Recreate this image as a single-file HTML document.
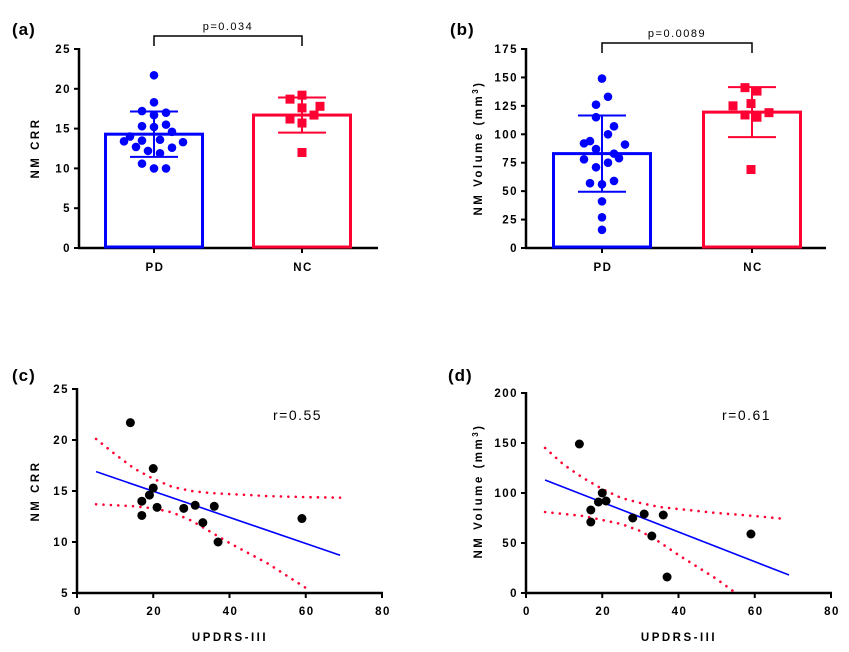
<!DOCTYPE html>
<html><head><meta charset="utf-8">
<style>
body{margin:0;background:#fff;}
svg{display:block;font-family:"Liberation Sans",Arial,sans-serif;}
.tk{font-size:11.5px;font-weight:bold;letter-spacing:1.5px;}
.ttl{font-size:11.5px;font-weight:bold;letter-spacing:2.5px;}
.pl{font-size:17px;font-weight:bold;letter-spacing:1px;}
</style></head>
<body>
<svg id="fig" width="849" height="652" viewBox="0 0 849 652"></svg>
<script>
// ---- data ----
const barCats = ["PD","NC"];
const crrMeans = [14.3, 16.7];
const crrSD = [2.85, 2.2];
const crrPD = [21.7,18.3,17.2,17.0,16.7,15.3,15.2,15.5,14.6,14.0,13.4,13.5,13.6,13.3,12.7,12.2,12.6,11.9,10.6,10.0,10.0];
const crrPDjit = [0,0,-12,12,0,-12,0,12,18,-24,-30,-12,6,29,-18,-6,18,6,-12,0,12];
const crrNC = [18.7,19.2,17.6,17.8,16.2,16.7,15.7,12.0];
const crrNCjit = [-12,0,0,18,-12,12,0,0];
const volMeans = [83, 119.5];
const volSD = [33.5, 22];
const volPD = [149,133,126,115,107,100,94,92,91,87,83,79,78,75,71,57,56,59,41,27,16];
const volPDjit = [0,6,-6,-6,12,6,-12,-18,23,-6,12,17,-18,6,-6,-12,0,12,0,0,0];
const volNC = [141,138,125,127,117,115,119,69];
const volNCjit = [-7,5,-19,-1,-7,5,17,-1];
const updrs = [14,20,20,19,17,17,21,28,31,36,33,37,59];
const crrCorr = [21.7,17.2,15.3,14.6,14.0,12.6,13.4,13.3,13.6,13.5,11.9,10.0,12.3];
const updrsD = [14,20,19,21,17,17,28,31,36,33,37,59];
const volCorr = [149,100,91,92,83,71,75,79,78,57,16,59];
const fitX = [5,69];
const crrFit = [16.9,8.7];
const volFit = [113,18];
const ciUpX = [5,10,15,20,25,30,35,40,50,60,69];
const crrUp = [20.1,18.6,17.2,16.2,15.4,15.0,14.8,14.7,14.5,14.4,14.35];
const crrLoX = [5,10,15,20,25,30,35,40,50,60];
const crrLo = [13.7,13.6,13.5,13.3,12.9,12.1,11.0,9.9,7.9,5.5];
const volUpX = [5,10,15,20,25,30,35,40,50,60,68];
const volUp = [145,128,115,104,95,90,86,84,80,77,74];
const volLoX = [5,10,15,20,25,30,35,40,50,55];
const volLo = [81,79,77,73,69,62,51,38,14,0];

const NS="http://www.w3.org/2000/svg";
const svg=document.getElementById('fig');
function el(tag,attrs,parent,text){const e=document.createElementNS(NS,tag);for(const k in attrs)e.setAttribute(k,attrs[k]);if(text!==undefined)e.textContent=text;(parent||svg).appendChild(e);return e;}
function lin(d0,d1,r0,r1){return v=>r0+(v-d0)/(d1-d0)*(r1-r0);}

function yAxis(g,x,y,ticks,x0,x1,y0){
  const ax=el('line',{x1:x,y1:y(ticks[ticks.length-1])-1,x2:x,y2:y0+1,stroke:'#000','stroke-width':2.5},g);
  
  ticks.forEach(t=>{
    el('line',{x1:x-5,y1:y(t),x2:x,y2:y(t),stroke:'#000','stroke-width':2},g);
    const tl=el('text',{x:x-8,y:y(t)+4,'text-anchor':'end',class:'tk'},g,t);
    
  });
  const xa=el('line',{x1:x-1,y1:y0,x2:x1,y2:y0,stroke:'#000','stroke-width':2.5},g);
  
}

function barPanel(opt){
  const g=el('g',{});
  
  const y=lin(0,opt.max,248,49);
  const pl=el('text',{x:opt.lx,y:35,class:'pl'},g,opt.label);
  
  yAxis(g,opt.ax,y,opt.ticks,opt.ax,opt.xEnd,248);
  const cols=['#0000ff','#ff0033'];
  const means=opt.means, sd=opt.sd;
  const pts=[opt.pd,opt.nc], jit=[opt.pdj,opt.ncj];
  barCats.forEach((c,i)=>{
    const cx=opt.cx[i];
    el('line',{x1:cx,y1:248,x2:cx,y2:253,stroke:'#000','stroke-width':2},g);
    const cl=el('text',{x:cx+1,y:271,'text-anchor':'middle',class:'tk'},g,c);
    
    const b=el('rect',{x:cx-48.5,y:y(means[i]),width:97,height:248-y(means[i])-1,fill:'none',stroke:cols[i],'stroke-width':3},g);
    
    const lo=y(means[i]-sd[i]),hi=y(means[i]+sd[i]);
    const eb=el('path',{d:`M${cx},${lo}V${hi}M${cx-24},${lo}H${cx+24}M${cx-24},${hi}H${cx+24}`,stroke:cols[i],'stroke-width':2,fill:'none'},g);
    
    pts[i].forEach((v,k)=>{
      let m;
      if(i===0){m=el('circle',{cx:cx+jit[i][k],cy:y(v),r:4.3,fill:cols[i]},g);}
      else{m=el('rect',{x:cx+jit[i][k]-4.5,y:y(v)-4.5,width:9,height:9,fill:cols[i]},g);}
      
    });
  });
  const br=el('path',{d:`M${opt.cx[0]},${opt.by+10}V${opt.by}H${opt.cx[1]}V${opt.by+10}`,stroke:'#000','stroke-width':1.5,fill:'none'},g);
  
  const pt=el('text',{x:(opt.cx[0]+opt.cx[1])/2,y:opt.by-6,'text-anchor':'middle','font-size':'11px','letter-spacing':'1.5px'},g,opt.p);
  
  const yt=el('text',{transform:`translate(${opt.ax-opt.tOff},148) rotate(-90)`,'text-anchor':'middle',class:'ttl'},g);
  
  yt.textContent=opt.ytitle;
  if(opt.sup){el('tspan',{'baseline-shift':'super','font-size':'8px'},yt,'3');el('tspan',{},yt,')');}
}

barPanel({name:'panel-a',label:'(a)',lx:12,ax:79,xEnd:378,max:25,ticks:[0,5,10,15,20,25],cx:[154,302],means:crrMeans,sd:crrSD,pd:crrPD,pdj:crrPDjit,nc:crrNC,ncj:crrNCjit,by:36,p:'p=0.034',ytitle:'NM CRR',tOff:40});
barPanel({name:'panel-b',label:'(b)',lx:450,ax:526,xEnd:826,max:175,ticks:[0,25,50,75,100,125,150,175],cx:[602,752],means:volMeans,sd:volSD,pd:volPD,pdj:volPDjit,nc:volNC,ncj:volNCjit,by:43,p:'p=0.0089',ytitle:'NM Volume (mm',sup:true,tOff:44});

function scatterPanel(opt){
  const g=el('g',{});
  
  const x=lin(0,80,opt.ax,opt.ax+305);
  const y=lin(opt.ymin,opt.ymax,593,opt.ytop);
  const pl=el('text',{x:opt.lx,y:381,class:'pl'},g,opt.label);
  
  yAxis(g,opt.ax,y,opt.ticks,opt.ax,opt.ax+306,593);
  [0,20,40,60,80].forEach(t=>{
    el('line',{x1:x(t),y1:593,x2:x(t),y2:598,stroke:'#000','stroke-width':2},g);
    const tl=el('text',{x:x(t)+1,y:615,'text-anchor':'middle',class:'tk'},g,t);
    
  });
  const xt=el('text',{x:opt.ax+153,y:641,'text-anchor':'middle',class:'ttl'},g,'UPDRS-III');
  
  const yt=el('text',{transform:`translate(${opt.ax-opt.tOff},491) rotate(-90)`,'text-anchor':'middle',class:'ttl'},g);
  
  yt.textContent=opt.ytitle;
  if(opt.sup){el('tspan',{'baseline-shift':'super','font-size':'8px'},yt,'3');el('tspan',{},yt,')');}
  const rt=el('text',{x:opt.ax+196,y:420,'font-size':'14px','letter-spacing':'1.5px'},g,opt.r);
  
  function band(xs,ys,nm){
    const p=el('polyline',{points:xs.map((v,i)=>x(v)+','+y(ys[i])).join(' '),fill:'none',stroke:'#ff0033','stroke-width':2.6,'stroke-dasharray':'0.1 7.3','stroke-linecap':'round'},g);
    
  }
  band(opt.upX,opt.up,'ci-upper');band(opt.loX,opt.lo,'ci-lower');
  const fl=el('line',{x1:x(fitX[0]),y1:y(opt.fit[0]),x2:x(fitX[1]),y2:y(opt.fit[1]),stroke:'#0000ff','stroke-width':1.6},g);
  
  opt.xs.forEach((v,i)=>{
    const c=el('circle',{cx:x(v),cy:y(opt.ys[i]),r:4.5,fill:'#000'},g);
    
  });
}
scatterPanel({name:'panel-c',label:'(c)',lx:12,ax:77,ymin:5,ymax:25,ytop:389,ticks:[5,10,15,20,25],xs:updrs,ys:crrCorr,fit:crrFit,upX:ciUpX,up:crrUp,loX:crrLoX,lo:crrLo,r:'r=0.55',ytitle:'NM CRR',tOff:38});
scatterPanel({name:'panel-d',label:'(d)',lx:448,ax:526,ymin:0,ymax:200,ytop:393,ticks:[0,50,100,150,200],xs:updrsD,ys:volCorr,fit:volFit,upX:volUpX,up:volUp,loX:volLoX,lo:volLo,r:'r=0.61',ytitle:'NM Volume (mm',sup:true,tOff:44});
</script>
</body></html>
